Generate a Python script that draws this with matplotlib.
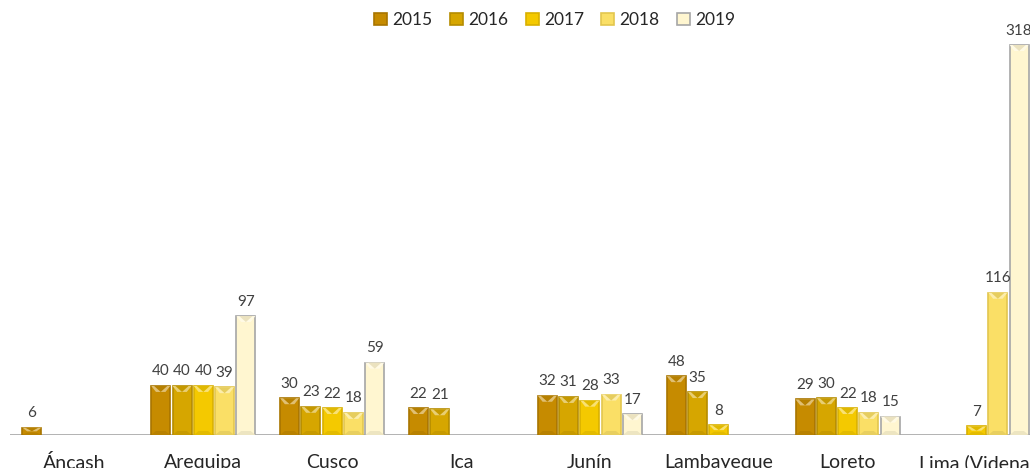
import matplotlib.pyplot as plt
import matplotlib.colors as mcolors
from matplotlib.patches import Polygon, Patch
import numpy as np

plt.rcParams['font.family'] = ['Lato', 'DejaVu Sans']

regiones = ['Áncash', 'Arequipa', 'Cusco', 'Ica', 'Junín', 'Lambayeque', 'Loreto', 'Lima (Videna)']
anios = ['2015', '2016', '2017', '2018', '2019']
# None = sin dato
v2015 = [6, 40, 30, 22, 32, 48, 29, None]
v2016 = [None, 40, 23, 21, 31, 35, 30, None]
v2017 = [None, 40, 22, None, 28, 8, 22, 7]
v2018 = [None, 39, 18, None, 33, None, 18, 116]
v2019 = [None, 97, 59, None, 17, None, 15, 318]
series = [v2015, v2016, v2017, v2018, v2019]

colores = ['#C68B00', '#D6A600', '#F4C900', '#FADF66', '#FFF6D0']
bordes = ['#A87500', '#B58C00', '#D9B000', '#E3C64E', '#A6A6A6']

fig = plt.figure(figsize=(10.3, 4.68), dpi=100)
# el grafico original esta recortado por la derecha
ax = fig.add_axes([10 / 1030, 1 - 435 / 468, 1031 / 1030, 330 * 1.2264 / 468])
ax.set_xlim(-0.5, 7.5)
ax.set_ylim(0, 330)

paso = 21.3 / 128.9
ancho = 19 / 128.9
px_y = 1.2264  # pixeles por unidad
x = np.arange(len(regiones))


def aclarar(c, f):
    r = np.array(mcolors.to_rgb(c))
    return tuple(r + (1 - r) * f)


def oscurecer(c, f):
    r = np.array(mcolors.to_rgb(c))
    return tuple(r * (1 - f))


for k, vals in enumerate(series):
    pos = x + (k - 2) * paso
    for xi, v in zip(pos, vals):
        if v is None:
            continue
        ax.bar(xi, v, width=ancho, color=colores[k], edgecolor=bordes[k], linewidth=1.2, zorder=2)
        # bisel superior e inferior
        h = min(6 / px_y, v / 2)
        x0, x1 = xi - ancho / 2, xi + ancho / 2
        ax.add_patch(Polygon([[x0, v], [x1, v], [x1 - 0.25 * ancho, v - h], [x0 + 0.25 * ancho, v - h]],
                             closed=True, facecolor=aclarar(colores[k], 0.45), edgecolor='none', zorder=3))
        ax.add_patch(Polygon([[x0 + 0.15 * ancho, v], [x1 - 0.15 * ancho, v], [xi, v - h]],
                             closed=True, facecolor=oscurecer(colores[k], 0.08), edgecolor='none', zorder=3))
        hb = min(4 / px_y, v / 3)
        ax.add_patch(Polygon([[x0, 0], [x1, 0], [x1 - 0.25 * ancho, hb], [x0 + 0.25 * ancho, hb]],
                             closed=True, facecolor=oscurecer(colores[k], 0.07), edgecolor='none', zorder=3))
        ax.text(xi, v + 7.5 / px_y, str(v), ha='center', va='bottom', fontsize=11, color='#404040', zorder=4)

ax.axhline(0, color='#A6A6A6', linewidth=1.2, zorder=1)
ax.set_xticks(x)
ax.set_xticklabels(regiones, fontsize=14, color='#262626')
ax.tick_params(axis='x', length=0, pad=14)
ax.set_yticks([])
for s in ax.spines.values():
    s.set_visible(False)

handles = [Patch(facecolor=colores[k], edgecolor=bordes[k], linewidth=1.2, label=anios[k]) for k in range(5)]
fig.legend(handles=handles, loc='center', bbox_to_anchor=(555 / 1030, 1 - 20 / 468), ncol=5, frameon=False,
           fontsize=12.5, handlelength=0.75, handleheight=0.75, handletextpad=0.3, columnspacing=1.0,
           labelcolor='#262626')

fig.savefig('out.png', dpi=100)
